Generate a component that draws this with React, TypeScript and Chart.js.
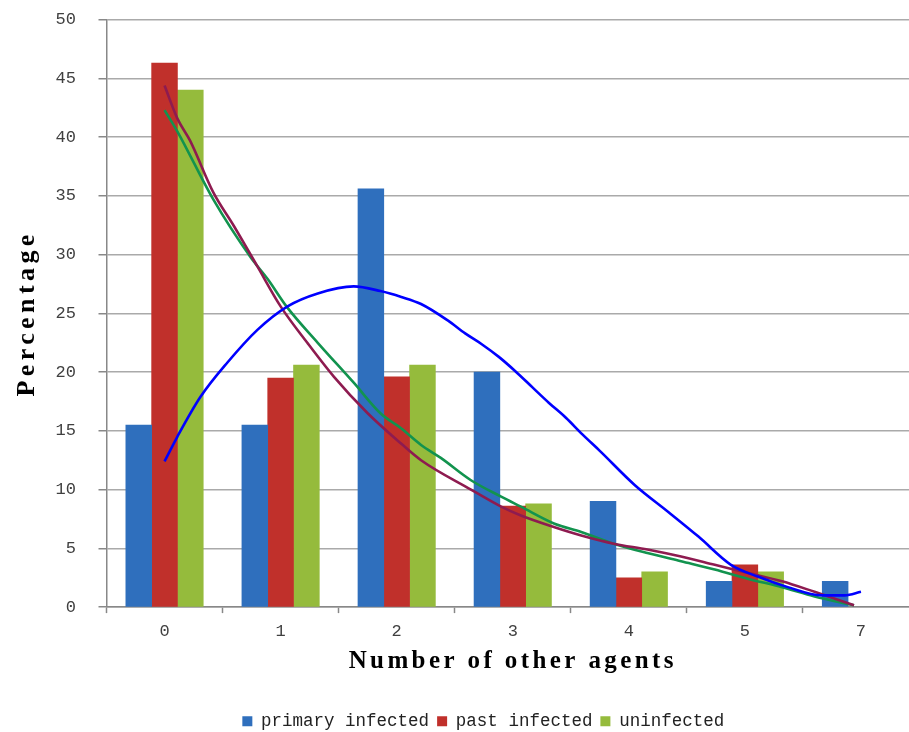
import React, { useEffect, useRef } from 'react';
import { Chart, registerables } from 'chart.js';

Chart.register(...registerables);

// ---- data ----
const categories = ['0', '1', '2', '3', '4', '5', '7'];
const primaryInfected = [15.5, 15.5, 35.6, 20.0, 9.0, 2.2, 2.2];
const pastInfected = [46.3, 19.5, 19.6, 8.6, 2.5, 3.6, null];
const uninfected = [44.0, 20.6, 20.6, 8.8, 3.0, 3.0, null];

// trend lines (x in category-index units, y in percent)
const primaryTrendX = [0.0, 0.11, 0.31, 0.54, 0.8, 1.06, 1.32, 1.63, 1.86, 2.04, 2.21, 2.44, 2.59, 2.73, 2.88, 3.02, 3.17, 3.31, 3.46, 3.6, 3.75, 4.05, 4.34, 4.6, 4.88, 5.11, 5.37, 5.66, 5.86, 6.0];
const primaryTrendY = [12.4, 14.5, 17.9, 20.8, 23.6, 25.6, 26.7, 27.3, 26.9, 26.4, 25.8, 24.4, 23.3, 22.4, 21.3, 20.1, 18.7, 17.4, 16.1, 14.7, 13.3, 10.4, 8.1, 6.0, 3.6, 2.6, 1.7, 1.0, 1.0, 1.3];

const pastTrendX = [0.0, 0.11, 0.22, 0.42, 0.6, 0.8, 1.0, 1.23, 1.46, 1.75, 2.04, 2.21, 2.64, 2.9, 3.07, 3.36, 3.59, 3.87, 4.16, 4.45, 4.74, 5.03, 5.32, 5.6, 5.94];
const pastTrendY = [44.4, 41.6, 39.7, 35.3, 32.4, 29.0, 25.6, 22.5, 19.6, 16.5, 13.9, 12.5, 10.0, 8.55, 7.8, 6.8, 6.1, 5.4, 4.9, 4.3, 3.6, 2.9, 2.2, 1.3, 0.15];

const uninfectedTrendX = [0.0, 0.11, 0.42, 0.74, 0.89, 1.05, 1.32, 1.63, 1.86, 2.04, 2.21, 2.38, 2.64, 2.9, 3.07, 3.36, 3.59, 3.87, 4.16, 4.45, 4.74, 5.03, 5.32, 5.6, 5.94];
const uninfectedTrendY = [42.3, 40.5, 34.7, 29.8, 27.9, 25.6, 22.5, 19.1, 16.5, 15.2, 13.8, 12.7, 10.8, 9.4, 8.55, 7.1, 6.4, 5.4, 4.6, 3.9, 3.2, 2.4, 1.7, 0.9, 0.15];

const yTicks = [0, 5, 10, 15, 20, 25, 30, 35, 40, 45, 50];

const legendLabels = ['primary infected', 'past infected', 'uninfected'];
const xTitle = 'Number of other agents';
const yTitle = 'Percentage';

const toPoints = (xs: number[], ys: (number | null)[]) => xs.map((x, i) => ({ x, y: ys[i] }));
const catIndex = categories.map((_, i) => i);
// x ticks: a label at each category, a tick mark at each category boundary
const xTickPositions = catIndex.flatMap((i) => [i - 0.5, i]).concat(categories.length - 0.5);

const titleSpacing = {
  id: 'titleSpacing',
  afterUpdate(chart: any) {
    const spacing: Record<string, string> = { x: '3.4px', y: '4.4px' };
    for (const id of ['x', 'y']) {
      const s: any = chart.scales[id];
      if (s && !s.__wrapped) {
        const orig = s.drawTitle.bind(s);
        s.drawTitle = () => {
          const ctx = s.ctx;
          ctx.save();
          ctx.letterSpacing = spacing[id];
          orig();
          ctx.restore();
        };
        s.__wrapped = true;
      }
    }
  },
};

const barStyle = { type: 'bar', barThickness: 25.8, order: 2 };
const lineStyle = { type: 'line', borderWidth: 2.6, pointRadius: 0, cubicInterpolationMode: 'monotone', order: 1, fill: false };

export default function App() {
  const ref = useRef<HTMLCanvasElement | null>(null);

  useEffect(() => {
    if (!ref.current) return;
    const chart = new Chart(ref.current, {
      type: 'bar',
      data: {
        datasets: [
          { ...barStyle, label: legendLabels[0], data: toPoints(catIndex, primaryInfected), backgroundColor: '#2F6FBD' } as any,
          { ...barStyle, label: legendLabels[1], data: toPoints(catIndex, pastInfected), backgroundColor: '#C0302B' } as any,
          { ...barStyle, label: legendLabels[2], data: toPoints(catIndex, uninfected), backgroundColor: '#95BB3C' } as any,
          { ...lineStyle, label: 'primary infected trend', data: toPoints(primaryTrendX, primaryTrendY), borderColor: '#0000FF' } as any,
          { ...lineStyle, label: 'past infected trend', data: toPoints(pastTrendX, pastTrendY), borderColor: '#8E1B50' } as any,
          { ...lineStyle, label: 'uninfected trend', data: toPoints(uninfectedTrendX, uninfectedTrendY), borderColor: '#12934E' } as any,
        ],
      },
      options: {
        animation: false,
        responsive: false,
        layout: { padding: { left: 39.5, right: 0, top: 0, bottom: -8 } },
        plugins: {
          tooltip: { enabled: false },
          legend: {
            position: 'bottom',
            labels: {
              boxWidth: 10,
              boxHeight: 10,
              padding: 8,
              color: '#222',
              font: { family: '"Liberation Mono", monospace', size: 17.5 },
              filter: (item: any) => legendLabels.includes(item.text),
            },
          },
        },
        scales: {
          x: {
            type: 'linear',
            offset: false,
            min: -0.5,
            max: categories.length - 0.5,
            afterBuildTicks: (axis: any) => { axis.ticks = xTickPositions.map((v) => ({ value: v })); },
            grid: {
              display: true,
              offset: false,
              drawOnChartArea: false,
              drawTicks: true,
              tickLength: 6,
              tickWidth: 1.5,
              color: '#888',
              tickColor: (ctx: any) => (ctx.tick && Number.isInteger(ctx.tick.value) ? 'rgba(0,0,0,0)' : '#888'),
            },
            border: { display: true, color: '#888', width: 1.5 },
            ticks: {
              autoSkip: false,
              maxRotation: 0,
              color: '#404040',
              padding: 8,
              font: { family: '"Liberation Mono", monospace', size: 17 },
              callback: (v: any) => (Number.isInteger(v) ? categories[v] : ''),
            },
            title: {
              display: true, text: xTitle, color: '#000',
              font: { family: '"Liberation Serif", serif', size: 25, weight: 'bold', lineHeight: 1.2 },
              padding: { top: -3, bottom: 28 },
            },
          },
          y: {
            type: 'linear',
            min: 0,
            max: 50,
            afterBuildTicks: (axis: any) => { axis.ticks = yTicks.map((v) => ({ value: v })); },
            grid: { color: '#AAAAAA', lineWidth: 1.5, tickLength: 8, drawTicks: true, tickColor: '#888' },
            border: { display: true, color: '#888', width: 1.5 },
            ticks: { color: '#404040', padding: 22.5, font: { family: '"Liberation Mono", monospace', size: 17 } },
            title: {
              display: true, text: yTitle, color: '#000',
              font: { family: '"Liberation Serif", serif', size: 26, weight: 'bold', lineHeight: 1.2 },
              padding: { top: -28.1, bottom: -9.5 },
            },
          },
        },
      } as any,
      plugins: [titleSpacing],
    });
    return () => chart.destroy();
  }, []);

  return (
    <div style={{ position: 'fixed', left: 0, top: 0, width: 909, height: 732, overflow: 'hidden', background: '#fff' }}>
      <div style={{ width: 927, height: 745, position: 'absolute', left: 0, top: -13 }}>
        <canvas ref={ref} width={927} height={745} style={{ display: 'block', width: 927, height: 745 }} />
      </div>
    </div>
  );
}
